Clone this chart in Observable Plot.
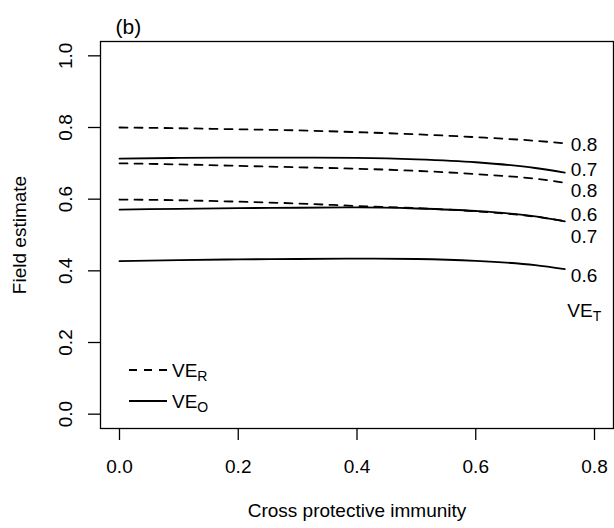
<!DOCTYPE html>
<html>
<head>
<meta charset="utf-8">
<script src="https://cdn.jsdelivr.net/npm/d3@7"></script>
<script src="https://cdn.jsdelivr.net/npm/@observablehq/plot@0.6"></script>
<style>
  html, body { margin: 0; padding: 0; background: #fff; }
</style>
</head>
<body>
<script>
// ---- data ----
const crossImmunity = [0, 0.1, 0.2, 0.3, 0.4, 0.5, 0.6, 0.7, 0.75];

// dashed curves (VE_R)
const veR_a = [0.800, 0.798, 0.795, 0.792, 0.787, 0.781, 0.773, 0.763, 0.756];
const veR_b = [0.700, 0.697, 0.693, 0.689, 0.685, 0.679, 0.670, 0.657, 0.646];
const veR_c = [0.599, 0.597, 0.593, 0.588, 0.581, 0.575, 0.566, 0.551, 0.539];

// solid curves (VE_O)
const veO_a = [0.713, 0.715, 0.716, 0.716, 0.715, 0.711, 0.703, 0.687, 0.674];
const veO_b = [0.571, 0.573, 0.575, 0.576, 0.577, 0.574, 0.567, 0.552, 0.538];
const veO_c = [0.427, 0.430, 0.432, 0.433, 0.434, 0.433, 0.428, 0.416, 0.405];

// right-hand labels (VE_T values)
const endLabels = ["0.8", "0.7", "0.8", "0.6", "0.7", "0.6"];
const endLabelY = [0.751, 0.682, 0.623, 0.556, 0.494, 0.385];
const vetLabelY = 0.29;

const xTicks = [0, 0.2, 0.4, 0.6, 0.8];
const yTicks = [0, 0.2, 0.4, 0.6, 0.8, 1.0];

const xTitle = "Cross protective immunity";
const yTitle = "Field estimate";
const panelTitle = "(b)";

// ---- build tables ----
const rows = [];
function addSeries(name, type, values) {
  values.forEach((v, i) => rows.push({cp: crossImmunity[i], value: v, series: name, type}));
}
addSeries("R-a", "R", veR_a);
addSeries("R-b", "R", veR_b);
addSeries("R-c", "R", veR_c);
addSeries("O-a", "O", veO_a);
addSeries("O-b", "O", veO_b);
addSeries("O-c", "O", veO_c);

const labelRows = endLabels.map((t, i) => ({text: t, y: endLabelY[i]}));
const fmt = d3.format(".1f");
const FONT = "'Liberation Sans', Arial, Helvetica, sans-serif";
const DASH = "8,7";

const plot = Plot.plot({
  width: 614,
  height: 528,
  marginLeft: 100,
  marginRight: 1,
  marginTop: 41,
  marginBottom: 100,
  style: {fontFamily: FONT, fontSize: "19px", color: "black", background: "white"},
  x: {domain: [-0.032, 0.832]},
  y: {domain: [-0.04, 1.04]},
  marks: [
    Plot.frame({stroke: "black", strokeWidth: 1.3}),
    Plot.axisX({ticks: xTicks, tickSize: 12, tickPadding: 19, tickFormat: fmt, label: null, strokeWidth: 1.3, fontSize: 19}),
    Plot.axisY({ticks: yTicks, tickSize: 12, tickFormat: () => "", label: null, strokeWidth: 1.3}),
    Plot.text(yTicks, {y: d => d, text: d => fmt(d), frameAnchor: "left", dx: -34.5, rotate: -90,
      textAnchor: "middle", lineAnchor: "middle", fontSize: 19}),
    Plot.text([xTitle], {text: d => d, frameAnchor: "bottom", dy: 82, lineAnchor: "middle", fontSize: 19}),
    Plot.text([yTitle], {text: d => d, frameAnchor: "left", dx: -81, rotate: -90,
      textAnchor: "middle", lineAnchor: "middle", fontSize: 19}),
    Plot.text([panelTitle], {text: d => d, frameAnchor: "top-left", dx: 15, dy: -14,
      textAnchor: "start", lineAnchor: "middle", fontSize: 21}),
    Plot.line(rows.filter(d => d.type === "R"), {x: "cp", y: "value", z: "series", stroke: "black",
      strokeWidth: 1.8, strokeDasharray: DASH, curve: "monotone-x"}),
    Plot.line(rows.filter(d => d.type === "O"), {x: "cp", y: "value", z: "series", stroke: "black",
      strokeWidth: 1.8, curve: "monotone-x"}),
    Plot.text(labelRows, {x: () => 0.75, y: "y", text: "text", dx: 6, textAnchor: "start",
      lineAnchor: "middle", fontSize: 19})
  ]
});

document.body.appendChild(plot);

// ---- VE_T label and legend (need subscripts) ----
const sx = plot.scale("x"), sy = plot.scale("y");
const svg = d3.select(plot);

function subText(g, x, y, main, sub) {
  const t = g.append("text").attr("x", x).attr("y", y)
    .attr("text-anchor", "start")
    .attr("font-family", FONT).attr("font-size", 19).attr("fill", "black");
  t.append("tspan").text(main);
  t.append("tspan").attr("font-size", 14).attr("dy", 4).text(sub);
}

subText(svg, sx.apply(0.75) + 3, sy.apply(vetLabelY) + 6.8, "VE", "T");

const legendItems = [
  {main: "VE", sub: "R", dash: DASH},
  {main: "VE", sub: "O", dash: null}
];
const lg = svg.append("g");
legendItems.forEach((item, i) => {
  const yy = 370 + i * 31;
  const ln = lg.append("line").attr("x1", 129).attr("x2", 167).attr("y1", yy).attr("y2", yy)
    .attr("stroke", "black").attr("stroke-width", 1.8);
  if (item.dash) ln.attr("stroke-dasharray", item.dash);
  subText(lg, 172, yy + 6.8, item.main, item.sub);
});
</script>
</body>
</html>
